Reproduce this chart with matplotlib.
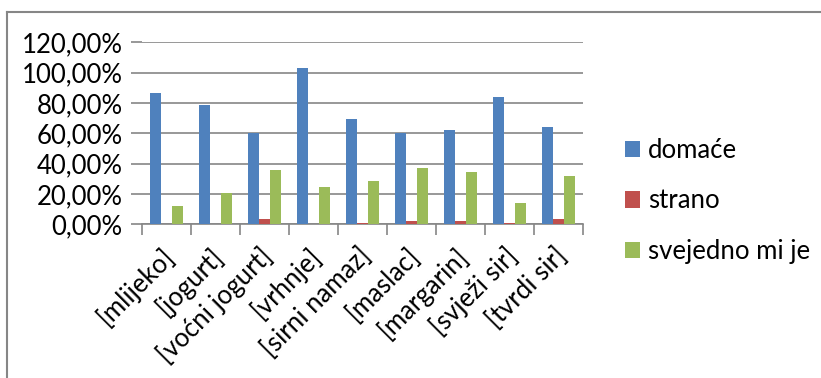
import numpy as np
import matplotlib.pyplot as plt
from matplotlib.ticker import FuncFormatter
from matplotlib.lines import Line2D
from matplotlib.transforms import ScaledTranslation

# categories and series values (shares)
categories = ["[mlijeko]", "[jogurt]", "[voćni jogurt]", "[vrhnje]", "[sirni namaz]",
              "[maslac]", "[margarin]", "[svježi sir]", "[tvrdi sir]"]
domace = [0.867, 0.788, 0.600, 1.030, 0.694, 0.600, 0.624, 0.841, 0.639]
strano = [0.005, 0.0, 0.033, 0.0, 0.010, 0.020, 0.020, 0.010, 0.035]
svejedno = [0.120, 0.206, 0.356, 0.246, 0.283, 0.371, 0.347, 0.142, 0.316]
series_names = ["domaće", "strano", "svejedno mi je"]
colors = ["#4F81BD", "#C0504D", "#9BBB59"]

plt.rcParams['font.family'] = ['Lato', 'DejaVu Sans']
fs = 18.5

fig = plt.figure(figsize=(8.21, 3.78), dpi=100)
ax = fig.add_axes([142/821, 1-224.3/378, 441/821, 182/378])

x = np.arange(len(categories))
w = 1/4.5
for i, vals in enumerate([domace, strano, svejedno]):
    ax.bar(x + (i-1)*w, vals, width=w, color=colors[i], label=series_names[i], zorder=3)

ax.set_xlim(-0.5, len(categories)-0.5)
ax.set_ylim(0, 1.2)
ax.set_yticks(np.arange(0, 1.21, 0.2))
ax.yaxis.set_major_formatter(FuncFormatter(lambda v, p: ("%.2f%%" % (v*100)).replace(".", ",")))
ax.grid(axis='y', color='#868686', linewidth=1.2, zorder=0)
for s in ['top', 'right', 'left']:
    ax.spines[s].set_visible(False)
ax.spines['bottom'].set_color('#868686')
ax.spines['bottom'].set_linewidth(1.2)
ax.tick_params(axis='y', length=8, color='#868686', width=1.2, labelsize=fs, pad=6)
ax.set_xticks(np.arange(-0.5, len(categories)), minor=False)
ax.set_xticklabels([])
ax.set_xticks(x, minor=True)
ax.set_xticklabels(categories, minor=True, rotation=45, ha='right', va='center',
                   rotation_mode='anchor', fontsize=fs)
ax.tick_params(axis='x', which='major', length=8, color='#868686', width=1.2)
ax.tick_params(axis='x', which='minor', length=0, pad=20)
shift = ScaledTranslation(4/100, 0, fig.dpi_scale_trans)
for lab in ax.get_xticklabels(minor=True):
    lab.set_transform(lab.get_transform() + shift)

ax.legend(loc='center left', bbox_to_anchor=(625/821, 1-201/378), bbox_transform=fig.transFigure,
          frameon=False, fontsize=fs, handlelength=0.6, handleheight=0.6, handletextpad=0.3,
          labelspacing=1.0, borderpad=0, borderaxespad=0)

# outer chart border (only top and left visible in the crop)
fig.add_artist(Line2D([7/821, 7/821], [0, 1-12/378], transform=fig.transFigure, color='#868686', lw=1.5))
fig.add_artist(Line2D([7/821, 1], [1-12/378, 1-12/378], transform=fig.transFigure, color='#868686', lw=1.5))

fig.savefig("out.png", dpi=100)
